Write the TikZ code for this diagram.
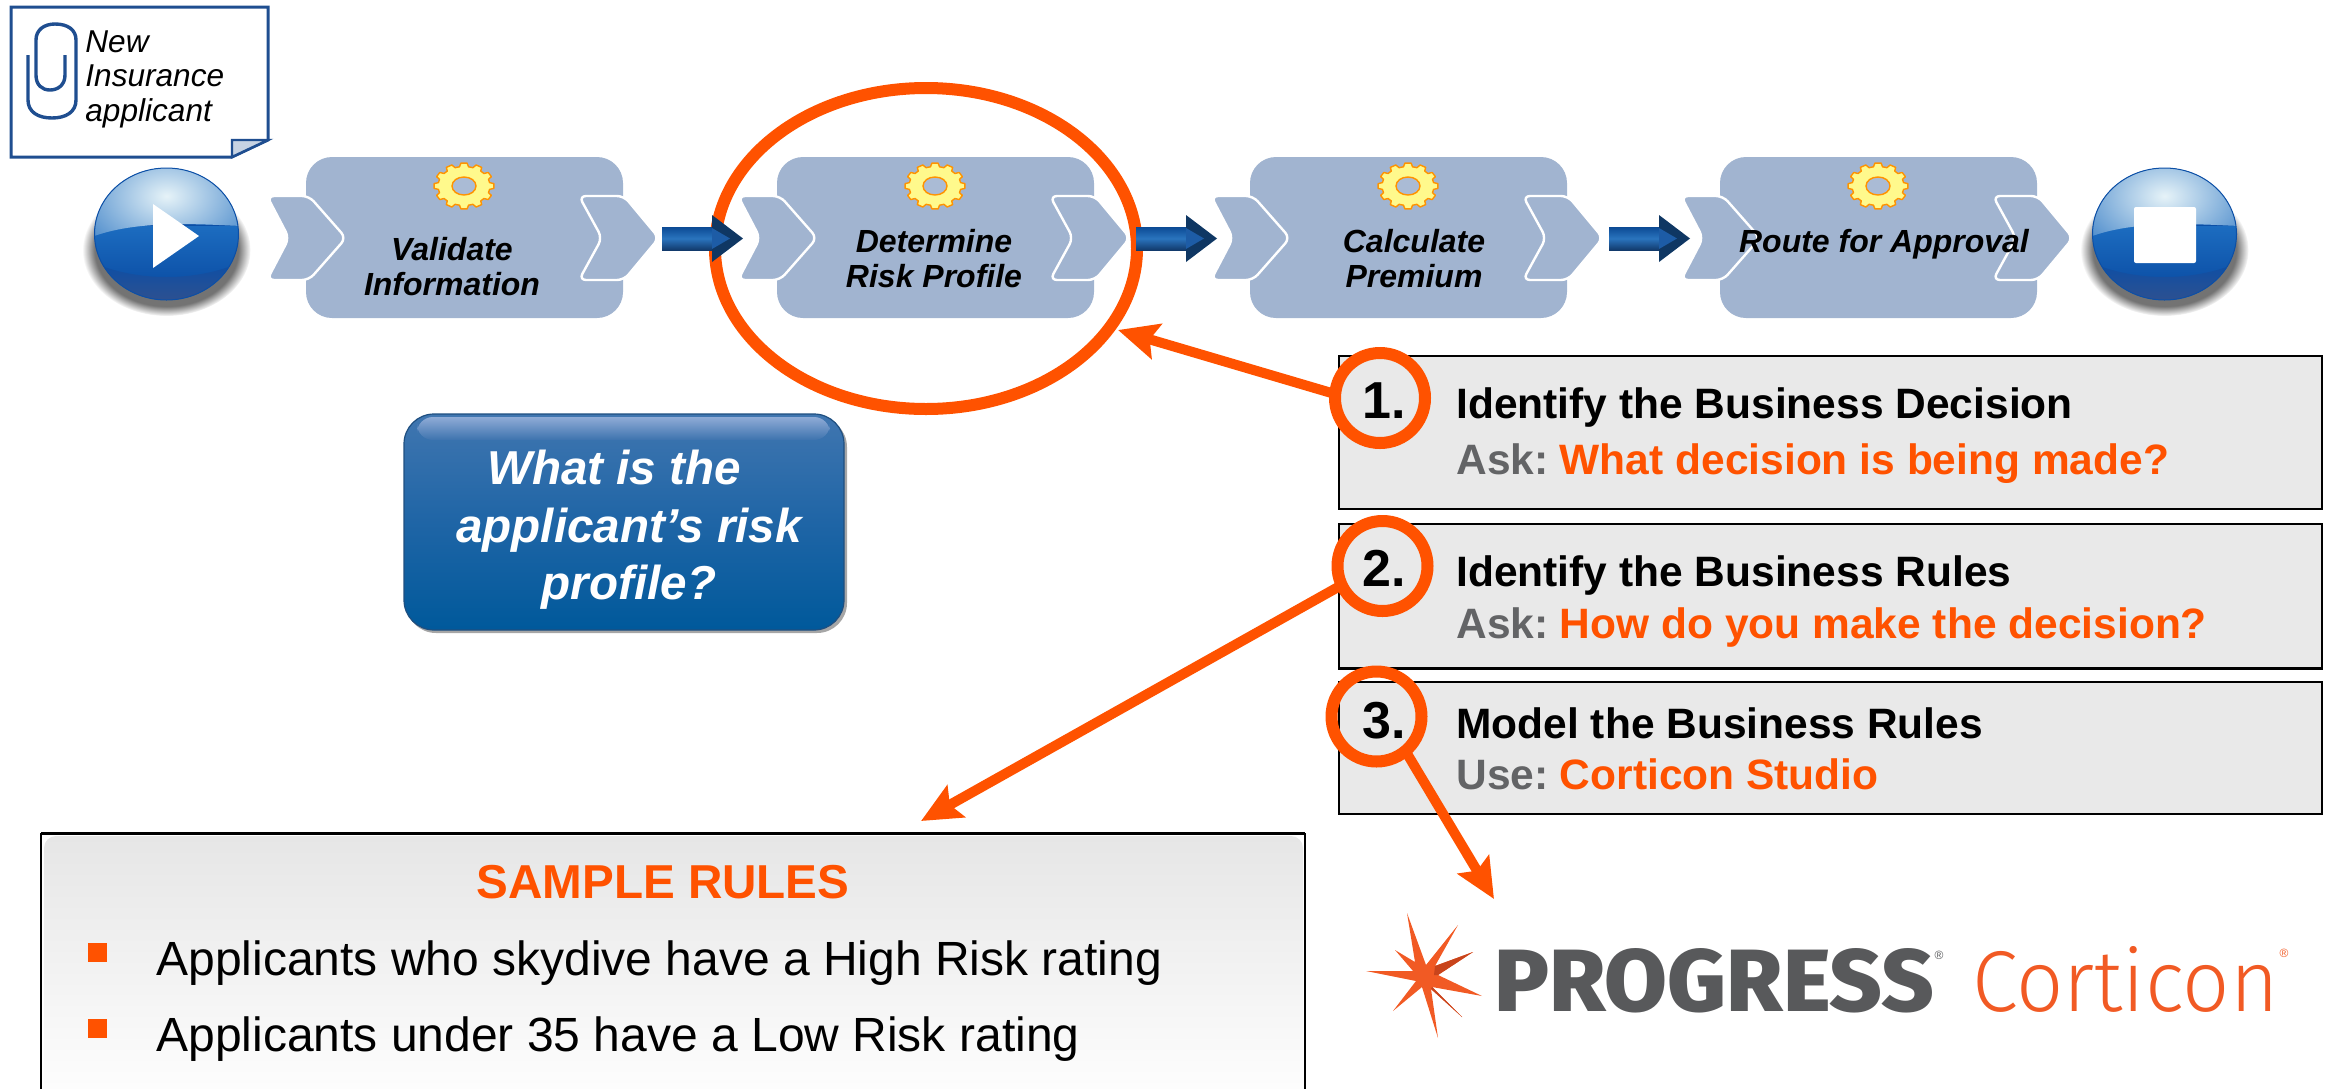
\documentclass[tikz,border=0pt]{standalone}
\usepackage{fontspec}
\usepackage{graphicx}
\setmainfont{Liberation Sans}
\newfontfamily\logofont{Fira Sans Light}
\newfontfamily\logobold{Fira Sans ExtraBold}
\usetikzlibrary{arrows.meta,fadings,shapes.geometric}
\definecolor{orng}{HTML}{FF5200}
\definecolor{procblue}{HTML}{A1B4D0}
\definecolor{notecol}{HTML}{1F4E90}
\definecolor{askgrey}{HTML}{636466}
\definecolor{logogrey}{HTML}{58595B}
\definecolor{logoorng}{HTML}{F15A24}
\definecolor{logodark}{HTML}{C8441C}
\definecolor{boxgrey}{HTML}{E9E9E9}
\definecolor{arrtop}{HTML}{0C4A94}
\definecolor{arrmid}{HTML}{2A74BE}
\definecolor{arrbot}{HTML}{123A6C}
\definecolor{arrhead}{HTML}{0F3763}
\definecolor{arrin}{HTML}{1D5CA6}
\definecolor{balla}{HTML}{1C6CC0}
\definecolor{ballb}{HTML}{0C4FA6}
\definecolor{ballc}{HTML}{E6F3F8}
\definecolor{balld}{HTML}{1E6CBE}
\definecolor{balle}{HTML}{30508E}
\definecolor{qtop}{HTML}{4076B0}
\definecolor{qmid}{HTML}{1F65A6}
\definecolor{qbot}{HTML}{00599B}
\definecolor{qline}{HTML}{1F4F80}
\definecolor{qhia}{HTML}{8FABD6}
\definecolor{qhib}{HTML}{3D73AE}
\definecolor{rtop}{HTML}{E6E6E6}
\tikzset{
  x=0.5pt,y=-0.5pt,
  procbody/.style={rectangle,rounded corners=13pt,fill=procblue,minimum width=158.5pt,minimum height=80.5pt,inner sep=0pt,outer sep=0pt,anchor=north west},
  chevron/.style={fill=procblue,draw=white,line width=1.2pt,rounded corners=3.5pt},
  proctext/.style={font=\fontsize{16}{17.5}\selectfont\bfseries\itshape,align=center,inner sep=0pt,text=black},
  stepbox/.style={rectangle,draw=black,line width=1.2pt,fill=boxgrey,minimum width=491.5pt,inner sep=0pt,outer sep=0pt,anchor=north west},
  stephead/.style={font=\fontsize{21.25}{25}\selectfont\bfseries,anchor=base west,inner sep=0pt,text=black},
  stepsub/.style={font=\fontsize{21.25}{25}\selectfont\bfseries,anchor=base west,inner sep=0pt,text=askgrey},
  stepnum/.style={font=\fontsize{26}{30}\selectfont\bfseries,anchor=base west,inner sep=0pt,text=black},
  ring/.style={circle,draw=orng,line width=6pt,minimum size=45pt,inner sep=0pt,outer sep=0pt},
  callout/.style={draw=orng,line width=5pt,-{Stealth[length=20pt,width=18pt,inset=3.5pt]}},
  rulebullet/.style={fill=orng},
  ruletext/.style={font=\fontsize{24}{28}\selectfont,anchor=base west,inner sep=0pt,text=black},
}
\newcommand{\gearicon}[2]{%
  \begin{scope}[shift={(#1,#2)}]
    \draw[fill=yellow!45!white,draw=orange!85!yellow,line width=.7pt,line join=round]
      (-10:26 and 19.5)
      \foreach \a in {0,30,...,330}{ -- ({\a-10}:26 and 19.5) -- ({\a-6}:30 and 23) -- ({\a+6}:30 and 23) -- ({\a+10}:26 and 19.5) } -- cycle;
    \draw[fill=procblue!90!white,draw=orange!85!yellow,line width=.7pt] (0,0) ellipse [x radius=12,y radius=9];
  \end{scope}}
\newcommand{\chevpair}[1]{%
  \begin{scope}[shift={(#1,0)}]
    \path[chevron] (-39,196) -- (3,196) -- (40,238) -- (3,280) -- (-39,280) -- (-17,238) -- cycle;
    \path[chevron] (273,196) -- (318,196) -- (353,238) -- (318,280) -- (273,280) -- (296,238) -- cycle;
  \end{scope}}
\newcommand{\blockarrow}[1]{%
  \begin{scope}[shift={(#1,0)}]
    \shade[top color=arrtop,bottom color=arrbot,middle color=arrmid] (0,227) rectangle (52,250);
    \fill[arrhead] (50,215) -- (81,238.5) -- (50,262) -- cycle;
    \fill[arrin] (50,228) -- (68,238.5) -- (50,249) -- cycle;
  \end{scope}}
\newcommand{\glossyball}[2]{%
  \begin{scope}[shift={(#1,#2)}]
    \fill[black!55,path fading=circle with fuzzy edge 15 percent] (0,16) ellipse [x radius=84,y radius=66];
    \begin{scope}
      \clip (0,0) ellipse [x radius=72,y radius=66];
      \fill[ballb] (-72,-66) rectangle (72,66);
      \shade[top color=balla,bottom color=ballb] (-72,-8) rectangle (72,50);
      \begin{scope}
        \clip (-75,3) .. controls (-30,-14) and (30,-10) .. (75,-8) -- (75,-70) -- (-75,-70) -- cycle;
        \fill[balla] (-75,-70) rectangle (75,5);
        \shade[inner color=ballc,outer color=balld] (0,-38) ellipse [x radius=125,y radius=85];
      \end{scope}
      \shade[top color=ballb,bottom color=balle] (-75,28) .. controls (-30,48) and (30,48) .. (75,28) -- (75,70) -- (-75,70) -- cycle;
    \end{scope}
    \draw[ballb,line width=.5pt] (0,0) ellipse [x radius=72,y radius=66];
  \end{scope}}
\begin{document}
\begin{tikzpicture}
\useasboundingbox (0,0) rectangle (2331,1088);
\begin{scope}
\clip (0,0) rectangle (2331,1088);
% highlight ring (behind the process arrows)
\node[ellipse,draw=orng,line width=6pt,minimum width=211pt,minimum height=160.5pt,inner sep=0pt,outer sep=0pt] (focus) at (926,248.5) {};
% note
\path[fill=white,draw=notecol,line width=1.5pt] (11,7) -- (268,7) -- (268,140) -- (232,157) -- (11,157) -- cycle;
\path[fill=notecol!25!white,draw=notecol,line width=1.2pt] (268,140) -- (232,140) -- (232,157) -- cycle;
\draw[notecol,line width=1.7pt] (65,55) -- (65,75) .. controls (65,85) and (58,90) .. (50,90) .. controls (42,90) and (36,85) .. (36,75) -- (36,40) .. controls (36,30) and (44,24) .. (55,24) .. controls (68,24) and (76,30) .. (76,40) -- (76,100) .. controls (76,112) and (66,118) .. (52,118) .. controls (38,118) and (28,112) .. (28,100) -- (28,55);
\node[font=\fontsize{15.8}{17.25}\selectfont\itshape,align=left,inner sep=0pt,anchor=north west] (note) at (85,30) {New\\Insurance\\applicant};
% start ball
\glossyball{166.5}{234}
\path[fill=white] (153,204) -- (199,236) -- (153,268) -- cycle;
% processes
\node[procbody] (p1) at (306,157) {};
\node[procbody] (p2) at (777,157) {};
\node[procbody] (p3) at (1250,157) {};
\node[procbody] (p4) at (1720,157) {};
\chevpair{306}\chevpair{777}\chevpair{1250}\chevpair{1720}
\gearicon{464}{186}\gearicon{935}{186}\gearicon{1408}{186}\gearicon{1878}{186}
\node[proctext] (t1) at (452,267) {Validate\\Information};
\node[proctext] (t2) at (934,259) {Determine\\Risk Profile};
\node[proctext] (t3) at (1414,259) {Calculate\\Premium};
\node[proctext] (t4) at (1884,244) {Route for Approval};
\blockarrow{662}\blockarrow{1136}\blockarrow{1609}
% stop ball
\glossyball{2164.5}{234}
\path[fill=white,rounded corners=1pt] (2134,207) rectangle (2196,263);
% question
\fill[black!35,rounded corners=15pt] (406,417) rectangle (847,633);
\shade[top color=qtop,bottom color=qbot,middle color=qmid,draw=qline,line width=.6pt,rounded corners=15pt] (404,414) rectangle (844,630);
\shade[top color=qhia,bottom color=qhib,rounded corners=8pt] (417,417) rectangle (830,440);
\node[font=\fontsize{23.8}{28.75}\selectfont\bfseries\itshape,text=white,align=center,inner sep=0pt] (q) at (629,530) {What is the\hspace*{15pt}\\applicant’s risk\\profile?};
% steps
\node[stepbox,minimum height=76.5pt] (b1) at (1339,356) {};
\node[stepbox,minimum height=72.25pt] (b2) at (1339,524) {};
\node[stepbox,minimum height=66pt] (b3) at (1339,682) {};
\node[stephead] (h1) at (1456,418) {Identify the Business Decision};
\node[stepsub] (s1) at (1456,474) {Ask: \hspace{-2.2pt}\textcolor{orng}{What decision is being made?}};
\node[stephead] (h2) at (1456,586) {Identify the Business Rules};
\node[stepsub] (s2) at (1456,638) {Ask: \hspace{-2.2pt}\textcolor{orng}{How do you make the decision?}};
\node[stephead] (h3) at (1456,738) {Model the Business Rules};
\node[stepsub] (s3) at (1456,789) {Use: \hspace{-2.2pt}\textcolor{orng}{Corticon Studio}};
\node[ring] (c1) at (1380,398) {};
\node[ring] (c2) at (1382.5,566) {};
\node[ring] (c3) at (1376.5,716.5) {};
\node[stepnum] (n1) at (1362,418) {1.};
\node[stepnum] (n2) at (1362,586) {2.};
\node[stepnum] (n3) at (1362,738) {3.};
% sample rules
\path[fill=white,draw=black,line width=.9pt] (41,834) rectangle (1305,1120);
\draw[black,line width=1.5pt] (41,833) -- (1305,833);
\shade[top color=rtop,bottom color=white,rounded corners=6pt] (44,836) rectangle (1303,1110);
\draw[black,line width=.9pt] (41,834) -- (41,1120) (1305,834) -- (1305,1120);
\node[font=\fontsize{23.8}{28}\selectfont\bfseries,text=orng,inner sep=0pt,anchor=base] (sr) at (663,898) {SAMPLE RULES};
\path[rulebullet] (88,943) rectangle (107,962);
\path[rulebullet] (88,1019) rectangle (107,1038);
\node[ruletext] (r1) at (156,975) {Applicants who skydive have a High Risk rating};
\node[ruletext] (r2) at (156,1051) {Applicants under 35 have a Low Risk rating};
% logo
\fill[logoorng] (1407,913) -- (1426,965) -- (1458,925) -- (1435,966) -- (1473,952) -- (1438,975) -- (1482,996) -- (1432,987) -- (1462,1017) -- (1431,989) -- (1438,1038) -- (1422,987) -- (1393,1011) -- (1416,981) -- (1366,971) -- (1413,971) -- (1395,950) -- (1415,962) -- cycle;
\fill[logodark] (1473,952) -- (1435,966) -- (1434,975) -- (1438,975) -- cycle;
\fill[logodark] (1462,1017) -- (1432,987) -- (1431,989) -- cycle;
\node[font=\logobold,text=logogrey,inner sep=0pt,anchor=base west] (lg1) at (1494,1011) {\resizebox{220pt}{31.5pt}{PROGRESS}};
\node[font=\fontsize{6}{7}\selectfont,text=logogrey,inner sep=0pt] (lg2) at (1939,955) {®};
\node[font=\logofont,text=logoorng,inner sep=0pt,anchor=base west] (lg3) at (1972,1011) {\resizebox{153pt}{32.5pt}{Corticon}};
\node[font=\fontsize{6}{7}\selectfont,text=logoorng,inner sep=0pt] (lg4) at (2284,953) {®};
\coordinate (tip1) at (1118,330);
\coordinate (tip2) at (921,821);
\coordinate (tip3) at (1494,899);
\draw[callout] (c1.175) -- (tip1);
\draw[callout] (c2.205) -- (tip2);
\draw[callout] (c3.-50) -- (tip3);
\end{scope}
\end{tikzpicture}
\end{document}
